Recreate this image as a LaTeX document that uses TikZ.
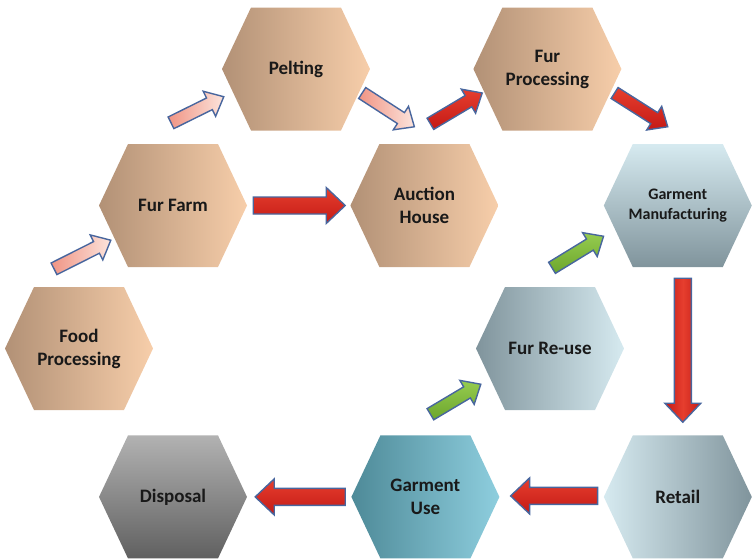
\documentclass[tikz,border=0pt]{standalone}
\usepackage{fontspec}
\setmainfont{Carlito}
\usepackage{xcolor}
\usetikzlibrary{positioning, calc}

\definecolor{tanL}{RGB}{178,145,118}
\definecolor{tanR}{RGB}{247,206,170}
\definecolor{iceL}{RGB}{214,234,240}
\definecolor{iceD}{RGB}{128,148,156}
\definecolor{tealL}{RGB}{78,138,152}
\definecolor{tealR}{RGB}{142,206,222}
\definecolor{greyT}{RGB}{178,178,178}
\definecolor{greyB}{RGB}{96,96,96}
\definecolor{arrowline}{RGB}{72,102,158}
\definecolor{redT}{RGB}{230,62,46}
\definecolor{redB}{RGB}{196,26,22}
\definecolor{pinkL}{RGB}{240,148,132}
\definecolor{pinkR}{RGB}{252,228,220}
\definecolor{greenT}{RGB}{150,204,80}
\definecolor{greenB}{RGB}{108,166,44}

% hexagon cut out of the node box
\newcommand\hexpath{(path picture bounding box.west) -- ([xshift=29pt]path picture bounding box.north west) -- ([xshift=-29pt]path picture bounding box.north east) -- (path picture bounding box.east) -- ([xshift=-29pt]path picture bounding box.south east) -- ([xshift=29pt]path picture bounding box.south west) -- cycle}

\begin{document}
\begin{tikzpicture}[x=1pt, y=-1pt, every node/.style={font=\bfseries\fontsize{19}{23}\selectfont, text=black!90}]
    \tikzstyle{hexagon} = [rectangle, minimum width=148pt, minimum height=123pt, inner sep=0pt, align=center]
    \tikzset{
        hshade/.style 2 args={hexagon, path picture={\shade[left color=#1, right color=#2] \hexpath;}},
        vshade/.style 2 args={hexagon, path picture={\shade[top color=#1, bottom color=#2] \hexpath;}},
        block/.style n args={3}{draw=arrowline, line width=1.4pt, line join=miter,
            to path={let \p1=(\tikztostart), \p2=(\tikztotarget),
                \n1={atan2(\y2-\y1,\x2-\x1)}, \n2={veclen(\x2-\x1,\y2-\y1)} in
                [shift={(\p1)}, rotate={\n1}]
                (0pt,-#1) -- (\n2-#3,-#1) -- (\n2-#3,-#2) -- (\n2,0pt) -- (\n2-#3,#2) -- (\n2-#3,#1) -- (0pt,#1) -- cycle}},
        redarrow/.style={block={8.5pt}{18pt}{19pt}, top color=redT, bottom color=redB},
        redvert/.style={block={8.5pt}{18pt}{19pt}, left color=redB, right color=redB, middle color=redT},
        reddiag/.style={block={6.5pt}{14pt}{16pt}, top color=redT, bottom color=redB},
        pinkdiag/.style={block={6.5pt}{14pt}{16pt}, left color=pinkL, right color=pinkR},
        greendiag/.style={block={6.5pt}{14pt}{16pt}, top color=greenT, bottom color=greenB}
    }
    \useasboundingbox (0,0) rectangle (754,558);

    \node[hshade={tanL}{tanR}] (food) at (79,348.5) {Food\\Processing};
    \node[hshade={tanL}{tanR}] (farm) at (173,205.5) {Fur Farm};
    \node[hshade={tanL}{tanR}] (pelting) at (296,69) {Pelting};
    \node[hshade={tanL}{tanR}, right=103pt of farm] (auction) {Auction\\House};
    \node[hshade={tanL}{tanR}, right=103pt of pelting] (furproc) {Fur\\Processing};
    \node[vshade={greyT}{greyB}, below=168pt of farm] (disposal) {Disposal};
    \node[hshade={tealL}{tealR}, right=104pt of disposal] (garuse) {Garment\\Use};
    \node[hshade={iceL}{iceD}, right=104pt of garuse] (retail) {Retail};
    \node[vshade={iceL}{iceD}, above=168pt of retail, font=\bfseries\fontsize{16}{20}\selectfont] (garmfg) {Garment\\Manufacturing};
    \node[hshade={iceD}{iceL}] (reuse) at (550,348.5) {Fur Re-use};

    \draw[pinkdiag] ($(food.north)+(-25,-18)$) to ($(farm.south west)+(12,-27)$);
    \draw[pinkdiag] ($(farm.north)+(-2,-21)$) to ($(pelting.south west)+(2,-34)$);
    \draw[pinkdiag] ($(pelting.east)+(-8,24)$) to ($(auction.north)+(-10,-17)$);
    \draw[reddiag] ($(auction.north)+(6,-20)$) to ($(furproc.west)+(9,24)$);
    \draw[reddiag] ($(furproc.east)+(-7,24)$) to ($(garmfg.north)+(-10,-17)$);
    \draw[redarrow] ($(farm.east)+(6,0)$) to ($(auction.west)+(-5,0)$);
    \draw[redvert] ($(garmfg.south)+(5,11)$) to ($(retail.north)+(5,-13)$);
    \draw[redarrow] ($(retail.west)+(-6,-1)$) to ($(garuse.east)+(11,-1)$);
    \draw[redarrow] ($(garuse.west)+(-6,0)$) to ($(disposal.east)+(8,0)$);
    \draw[greendiag] ($(garuse.north)+(5,-21)$) to ($(reuse.south west)+(5,-26)$);
    \draw[greendiag] ($(reuse.north)+(2,-19)$) to ($(garmfg.south west)+(0,-31)$);
\end{tikzpicture}
\end{document}
